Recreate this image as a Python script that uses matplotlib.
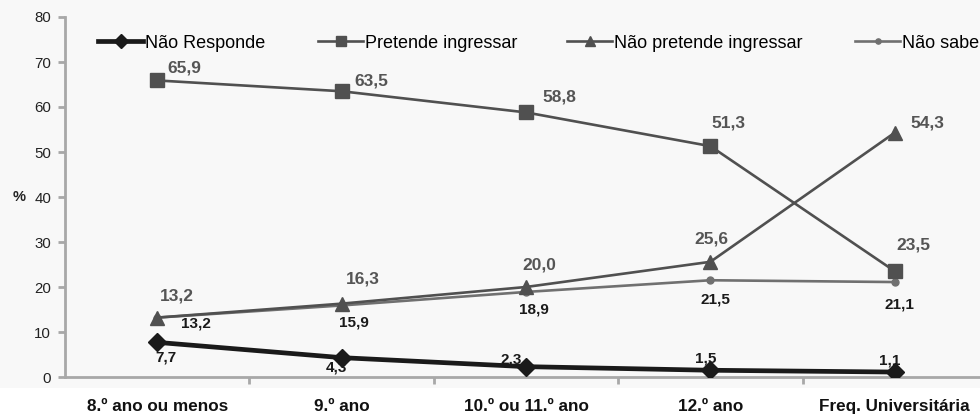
import matplotlib
matplotlib.use("Agg")
import matplotlib.pyplot as plt
from matplotlib.patches import Rectangle
from matplotlib.legend import Legend

plt.rcParams['font.family'] = ['Liberation Sans', 'DejaVu Sans']

categories = ["8.º ano ou menos", "9.º ano", "10.º ou 11.º ano", "12.º ano", "Freq. Universitária"]
nao_responde = [7.7, 4.3, 2.3, 1.5, 1.1]
pretende = [65.9, 63.5, 58.8, 51.3, 23.5]
nao_pretende = [13.2, 16.3, 20.0, 25.6, 54.3]
nao_sabe = [13.2, 15.9, 18.9, 21.5, 21.1]
series_names = ["Não Responde", "Pretende ingressar", "Não pretende ingressar", "Não sabe"]
y_ticks = [0, 10, 20, 30, 40, 50, 60, 70, 80]

# label offsets in pixels (styling only)
off_resp = [(9, -15), (-5, -10), (-15, 7), (-5, 12), (-5, 12)]
off_pret = [(27, 12), (30, 10), (33, 15), (18, 23), (19, 26)]
off_npret = [(20, 22), (21, 25), (13, 22), (1, 23), (33, 10)]
off_sabe = [(39, -6), (12, -17), (8, -18), (5, -19), (5, -22)]
legend_x_px = [98, 318, 567, 855]

W, H = 980, 415
fig = plt.figure(figsize=(W / 100, H / 100), dpi=100, facecolor='white')
bg = Rectangle((0, (H - 388) / H), 1, 388 / H, transform=fig.transFigure,
               facecolor='#f8f8f8', edgecolor='none', zorder=-10)
fig.patches.append(bg)

AX_L, AX_W = 65, 922
ax = fig.add_axes([AX_L / W, 38 / H, AX_W / W, 360 / H])
ax.set_facecolor('none')
ax.set_zorder(1)

x = list(range(len(categories)))
c_resp = '#1a1a1a'
c_pret = '#505050'
c_npret = '#505050'
c_sabe = '#707070'

l_sabe, = ax.plot(x, nao_sabe, color=c_sabe, lw=1.9, marker='o', ms=5, zorder=3)
l_npret, = ax.plot(x, nao_pretende, color=c_npret, lw=1.9, marker='^', ms=10.5, zorder=4)
l_pret, = ax.plot(x, pretende, color=c_pret, lw=1.9, marker='s', ms=9.5, zorder=4)
l_resp, = ax.plot(x, nao_responde, color=c_resp, lw=3.4, marker='D', ms=9.5, zorder=5)

def fmt(v):
    return f"{v:.1f}".replace('.', ',')

for xi, v, o in zip(x, pretende, off_pret):
    ax.annotate(fmt(v), (xi, v), xytext=o, textcoords='offset pixels', ha='center', va='center',
                fontsize=12.5, fontweight='bold', color='#555555')
for xi, v, o in zip(x, nao_pretende, off_npret):
    ax.annotate(fmt(v), (xi, v), xytext=o, textcoords='offset pixels', ha='center', va='center',
                fontsize=12.5, fontweight='bold', color='#555555')
for xi, v, o in zip(x, nao_sabe, off_sabe):
    ax.annotate(fmt(v), (xi, v), xytext=o, textcoords='offset pixels', ha='center', va='center',
                fontsize=11, fontweight='bold', color='#1a1a1a')
for xi, v, o in zip(x, nao_responde, off_resp):
    ax.annotate(fmt(v), (xi, v), xytext=o, textcoords='offset pixels', ha='center', va='center',
                fontsize=11, fontweight='bold', color='#1a1a1a')

ax.set_xlim(-0.5, len(categories) - 0.5)
ax.set_ylim(0, 80)
ax.set_yticks(y_ticks)
ax.set_yticklabels([str(t) for t in y_ticks])
ax.set_xticks(x)
ax.set_xticklabels(categories, fontsize=12.3, fontweight='bold', color='#111111')
ax.set_xticks([i + 0.5 for i in x[:-1]], minor=True)
ax.tick_params(axis='x', which='major', length=0, pad=16)
ax.tick_params(axis='x', which='minor', length=5, width=2, color='#a8a8a8', direction='out')
ax.tick_params(axis='y', length=5, width=2, color='#a8a8a8', labelsize=10.8, labelcolor='#222222', pad=5)

for s in ['top', 'right']:
    ax.spines[s].set_visible(False)
for s in ['left', 'bottom']:
    ax.spines[s].set_color('#a8a8a8')
    ax.spines[s].set_linewidth(2)

fig.text(19 / W, 1 - 197 / H, '%', fontsize=10.5, fontweight='bold', color='#222222', ha='center', va='center')

handles = [l_resp, l_pret, l_npret, l_sabe]
for h, name, px in zip(handles, series_names, legend_x_px):
    lg = Legend(ax, [h], [name], frameon=False, loc='center left',
                bbox_to_anchor=((px - AX_L) / AX_W, 74.2 / 80), fontsize=13,
                handlelength=2.5, handletextpad=0.12, borderaxespad=0, borderpad=0,
                markerscale=0.75)
    ax.add_artist(lg)

fig.savefig('out.png', dpi=100, facecolor=fig.get_facecolor())
